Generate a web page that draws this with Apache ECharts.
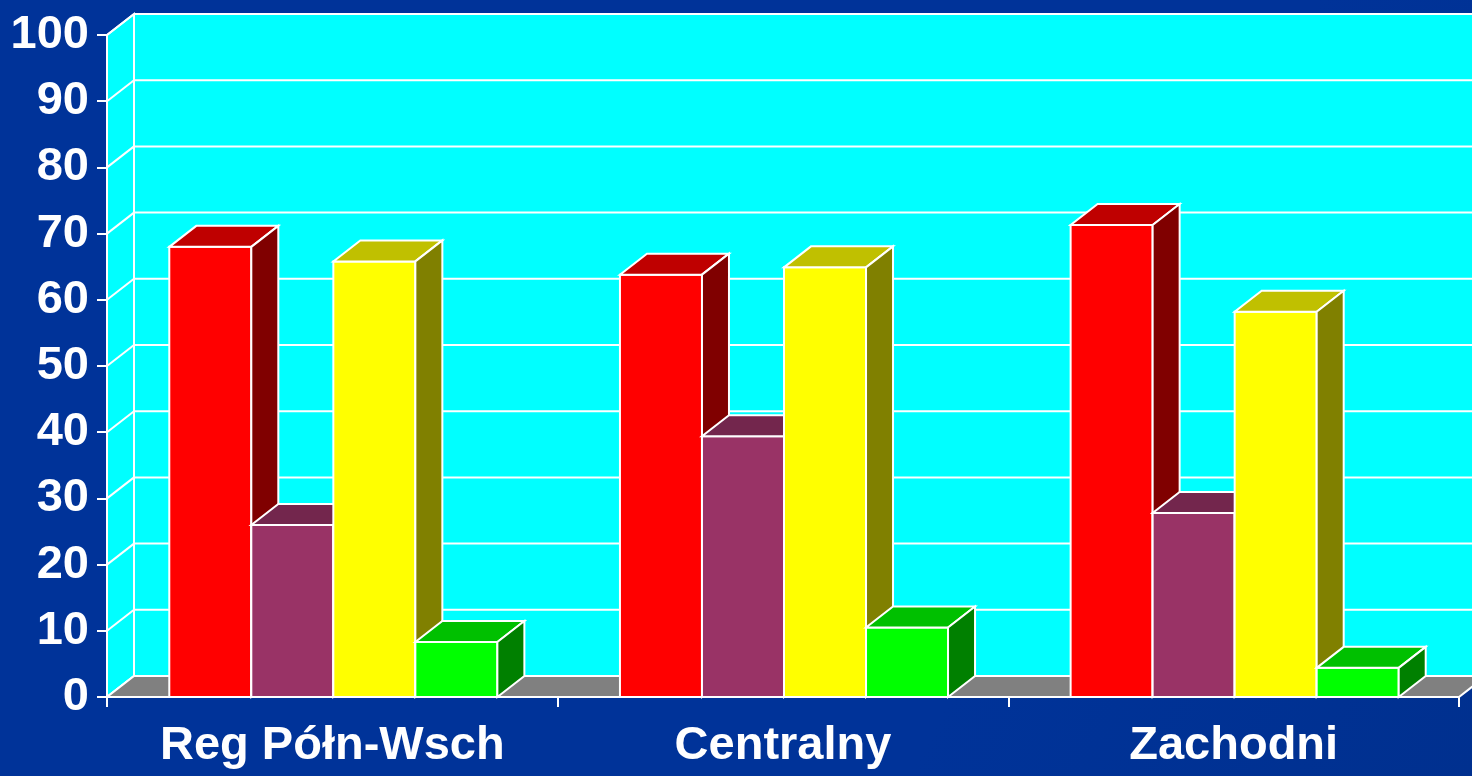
<!DOCTYPE html>
<html>
<head>
<meta charset="utf-8">
<title>Regiony</title>
<script src="https://cdn.jsdelivr.net/npm/echarts@6/dist/echarts.min.js"></script>
<style>
  html, body { margin: 0; padding: 0; background: #003399; }
  #chart { width: 1472px; height: 776px; }
</style>
</head>
<body>
<div id="chart"></div>
<script>
const categories = ["Reg Półn-Wsch", "Centralny", "Zachodni"];
const seriesNames = ["Seria 1", "Seria 2", "Seria 3", "Seria 4"];
const redValues = [68, 63.8, 71.3];
const mauveValues = [26, 39.4, 27.8];
const yellowValues = [65.8, 64.9, 58.2];
const greenValues = [8.3, 10.5, 4.4];
const yMin = 0;
const yMax = 100;
const yStep = 10;

// face colours: front, top, side
const palette = [
  ["#ff0000", "#bf0000", "#800000"],
  ["#993366", "#73264d", "#4d1a33"],
  ["#ffff00", "#c0c000", "#808000"],
  ["#00ff00", "#00c000", "#008000"]
];
const depthX = 27;
const depthY = -21;
const edge = { stroke: "#fff", lineWidth: 2 };

function renderWall(params, api) {
  const cs = params.coordSys;
  const x0 = cs.x, x1 = cs.x + cs.width;
  const yb = api.coord([0, yMin])[1];
  const yt = api.coord([0, yMax])[1];
  const children = [];
  // back wall
  children.push({
    type: "polygon",
    shape: { points: [[x0 + depthX, yt + depthY], [x1 + depthX + 40, yt + depthY], [x1 + depthX + 40, yb + depthY], [x0 + depthX, yb + depthY]] },
    style: { fill: "#00ffff" }
  });
  // left wall
  children.push({
    type: "polygon",
    shape: { points: [[x0, yt], [x0 + depthX, yt + depthY], [x0 + depthX, yb + depthY], [x0, yb]] },
    style: { fill: "#00ffff", stroke: "#fff", lineWidth: 2 }
  });
  for (let v = yMin; v <= yMax; v += yStep) {
    const y = api.coord([0, v])[1];
    children.push({
      type: "line",
      shape: { x1: x0 + depthX, y1: y + depthY, x2: x1 + depthX + 40, y2: y + depthY },
      style: { stroke: "#fff", lineWidth: 2 }
    });
    children.push({
      type: "line",
      shape: { x1: x0, y1: y, x2: x0 + depthX, y2: y + depthY },
      style: { stroke: "#fff", lineWidth: 2 }
    });
  }
  // floor
  children.push({
    type: "polygon",
    shape: { points: [[x0, yb], [x1, yb], [x1 + depthX, yb + depthY], [x0 + depthX, yb + depthY]] },
    style: { fill: "#808080", stroke: "#fff", lineWidth: 2 }
  });
  children.push({
    type: "line",
    shape: { x1: x0 + depthX, y1: yt + depthY, x2: x0 + depthX, y2: yb + depthY },
    style: { stroke: "#fff", lineWidth: 2 }
  });
  return { type: "group", children: children };
}

function makeBarRenderer(idx) {
  const colors = palette[idx];
  return function (params, api) {
    const cat = api.value(0);
    const val = api.value(1);
    const catW = api.size([1, 0])[0];
    const barW = catW * 0.182;
    const cx = api.coord([cat, 0])[0];
    const x = cx - 2 * barW + idx * barW + 1;
    const y0 = api.coord([cat, 0])[1];
    const y1 = api.coord([cat, val])[1];
    return {
      type: "group",
      children: [
        {
          type: "rect",
          shape: { x: x, y: y1, width: barW, height: y0 - y1 },
          style: Object.assign({ fill: colors[0] }, edge)
        },
        {
          type: "polygon",
          shape: { points: [[x, y1], [x + barW, y1], [x + barW + depthX, y1 + depthY], [x + depthX, y1 + depthY]] },
          style: Object.assign({ fill: colors[1] }, edge)
        },
        {
          type: "polygon",
          shape: { points: [[x + barW, y1], [x + barW + depthX, y1 + depthY], [x + barW + depthX, y0 + depthY], [x + barW, y0]] },
          style: Object.assign({ fill: colors[2] }, edge)
        }
      ]
    };
  };
}

const allValues = [redValues, mauveValues, yellowValues, greenValues];
const barSeries = allValues.map(function (vals, idx) {
  return {
    name: seriesNames[idx],
    type: "custom",
    z: 3,
    renderItem: makeBarRenderer(idx),
    encode: { x: 0, y: 1 },
    data: vals.map(function (v, i) { return [i, v]; })
  };
});

const chart = echarts.init(document.getElementById("chart"));
const labelFont = "'Liberation Sans', Arial, sans-serif";
chart.setOption({
  backgroundColor: {
    type: "linear", x: 0, y: 0, x2: 1, y2: 1,
    colorStops: [
      { offset: 0, color: "#003399" },
      { offset: 0.7, color: "#003399" },
      { offset: 1, color: "#00308f" }
    ]
  },
  animation: false,
  grid: { left: 107, right: 13, top: 35, bottom: 79 },
  xAxis: {
    type: "category",
    data: categories,
    z: 5,
    axisLine: { lineStyle: { color: "#fff", width: 2 } },
    axisTick: { show: true, interval: 0, length: 10, lineStyle: { color: "#fff", width: 2 } },
    axisLabel: {
      interval: 0,
      hideOverlap: false,
      color: "#fff",
      fontSize: 47,
      fontWeight: "bold",
      fontFamily: labelFont,
      margin: 26
    }
  },
  yAxis: {
    type: "value",
    min: yMin,
    max: yMax,
    interval: yStep,
    z: 5,
    axisLine: { show: true, lineStyle: { color: "#fff", width: 2 } },
    axisTick: { show: true, length: 10, lineStyle: { color: "#fff", width: 2 } },
    splitLine: { show: false },
    axisLabel: {
      color: "#fff",
      fontSize: 47,
      fontWeight: "bold",
      fontFamily: labelFont,
      margin: 18
    }
  },
  series: [
    {
      type: "custom",
      z: 1,
      silent: true,
      renderItem: renderWall,
      encode: { x: 0, y: 1 },
      data: [[0, 0]]
    }
  ].concat(barSeries)
});
</script>
</body>
</html>
